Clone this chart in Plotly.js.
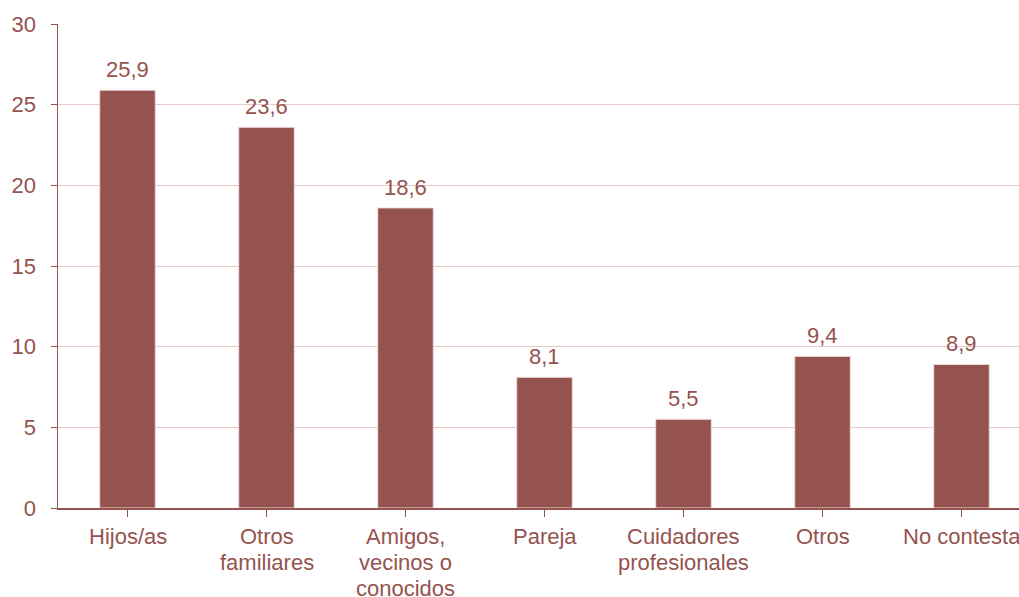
<!DOCTYPE html>
<html><head><meta charset="utf-8">
<script src="https://cdn.plot.ly/plotly-3.0.1.min.js"></script>
<style>html,body{margin:0;padding:0;background:#fff;}#c{width:1019px;height:597px;}</style>
</head><body><div id="c"></div>
<script>
const categories = ["Hijos/as","Otros<br>familiares","Amigos,<br>vecinos o<br>conocidos","Pareja","Cuidadores<br>profesionales","Otros","No contesta"];
const values = [25.9, 23.6, 18.6, 8.1, 5.5, 9.4, 8.9];
const yTicks = [0,5,10,15,20,25,30];

const mainColor = "#955350";
const fontFam = "'Liberation Sans', Arial, sans-serif";
const fs = 22;
const idx = categories.map((_, i) => i);

const trace = {
  type: "bar",
  x: idx,
  y: values,
  width: 0.4,
  marker: {color: mainColor, line: {color: "#f2dede", width: 1}},
  hoverinfo: "none"
};

const annotations = values.map((v, i) => ({
  x: i, y: v, xref: "x", yref: "y",
  text: v.toFixed(1).replace(".", ","),
  showarrow: false, yanchor: "bottom", yshift: 6,
  font: {family: fontFam, size: fs, color: mainColor}
}));

// category labels, one annotation per line (tighter line spacing like the reference)
categories.forEach((c, i) => {
  c.split("<br>").forEach((line, k) => {
    annotations.push({
      x: i, y: 0, xref: "x", yref: "paper",
      text: line, showarrow: false,
      xanchor: "center", yanchor: "middle",
      yshift: -(28 + 26 * k),
      font: {family: fontFam, size: fs, color: mainColor}
    });
  });
});

const layout = {
  width: 1019, height: 597,
  margin: {l: 58, r: 0, t: 24, b: 89},
  paper_bgcolor: "#fff", plot_bgcolor: "#fff",
  showlegend: false,
  font: {family: fontFam, size: fs, color: mainColor},
  xaxis: {
    range: [-0.5, -0.5 + 961/139],
    tickmode: "array", tickvals: idx, ticktext: categories,
    tickson: "boundaries",
    showticklabels: false,
    ticks: "outside", ticklen: 7, tickcolor: mainColor, tickwidth: 1,
    showline: true, linecolor: mainColor, linewidth: 1.5,
    showgrid: false, zeroline: false
  },
  yaxis: {
    range: [0, 30],
    tickmode: "array", tickvals: yTicks, ticktext: yTicks.map(String),
    ticks: "outside", ticklen: 6, tickcolor: mainColor, tickwidth: 1,
    ticklabelstandoff: 10,
    showline: true, linecolor: mainColor, linewidth: 1.5,
    showgrid: true, gridcolor: "#e8c8c8", gridwidth: 1,
    zeroline: false,
    tickfont: {family: fontFam, size: fs, color: mainColor}
  },
  annotations: annotations
};

Plotly.newPlot("c", [trace], layout, {displayModeBar: false, staticPlot: true});
</script>
</body></html>
